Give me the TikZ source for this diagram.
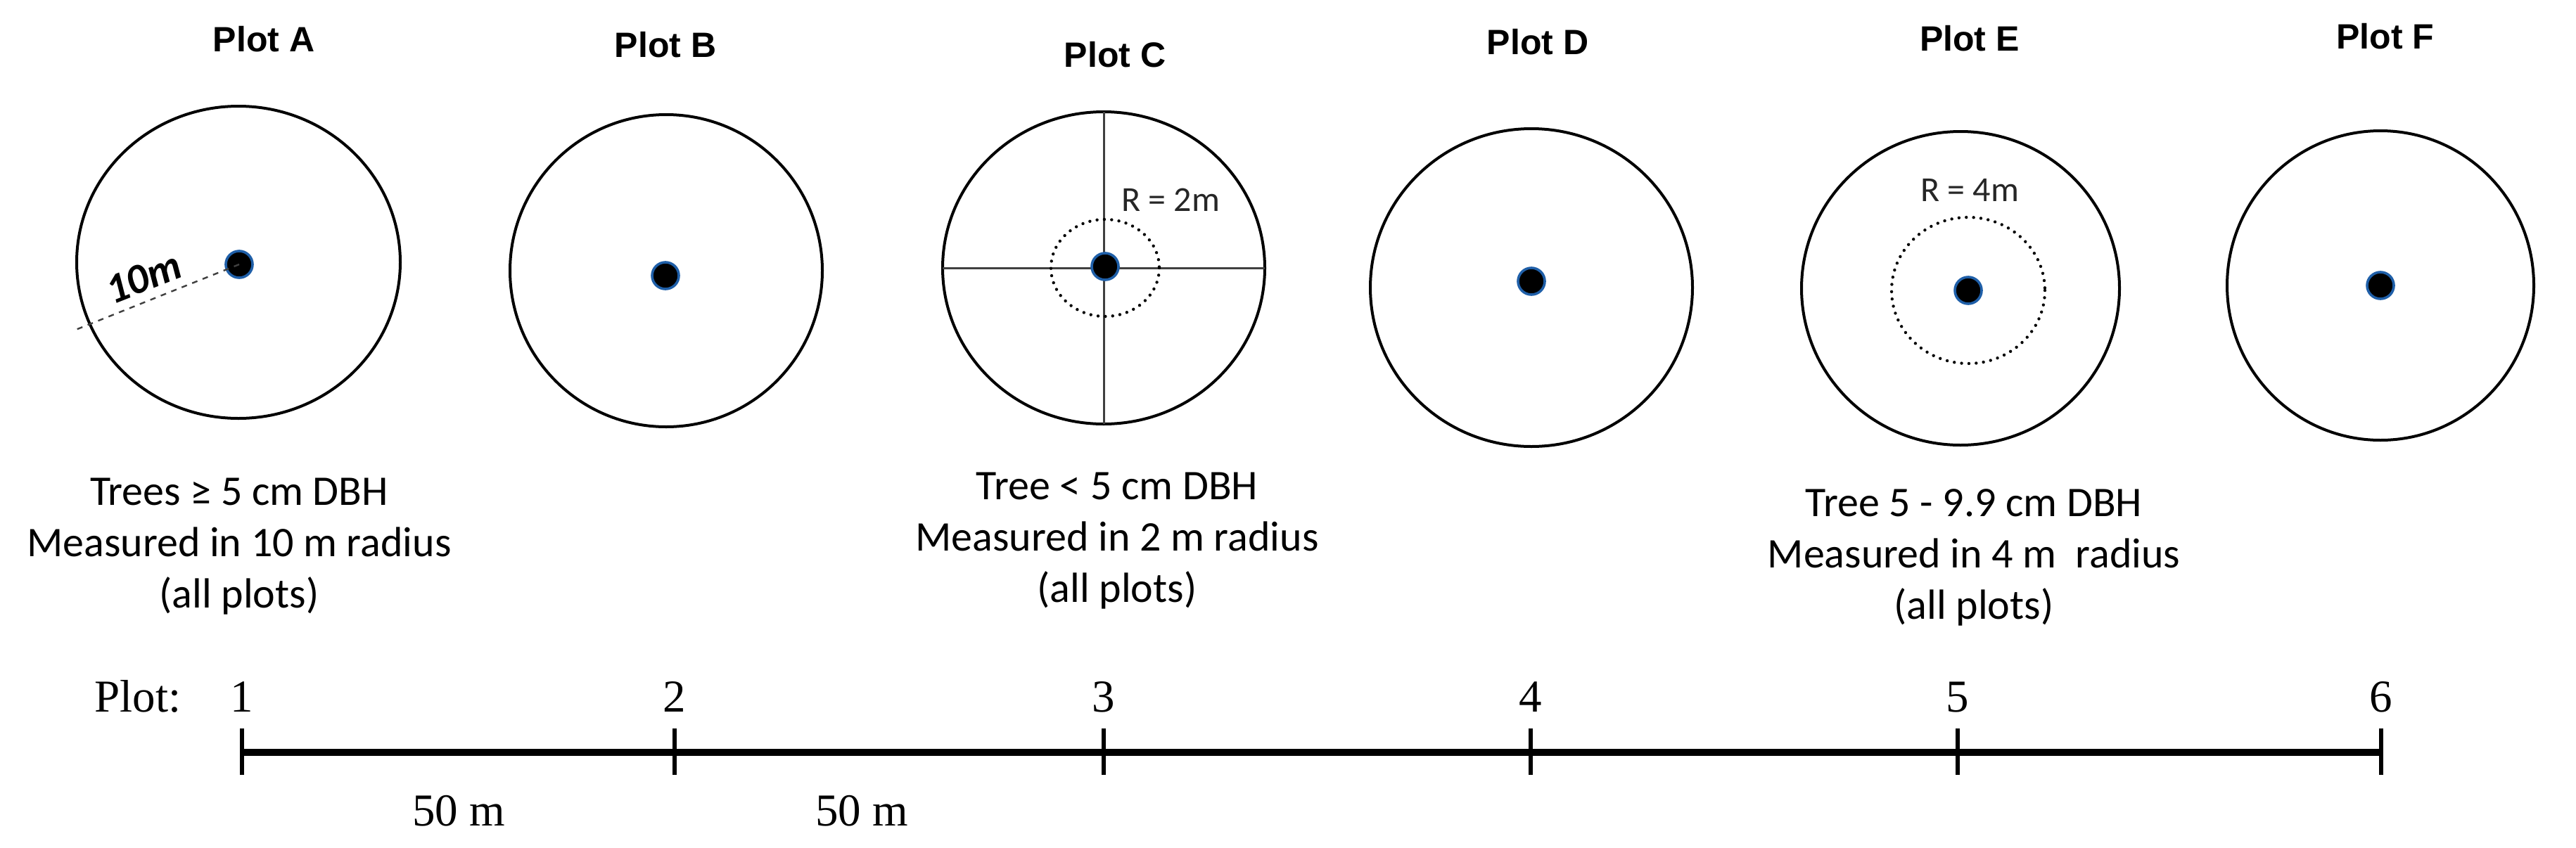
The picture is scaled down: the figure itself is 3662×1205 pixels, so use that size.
\documentclass[tikz,border=0pt]{standalone}
\usepackage{fontspec}
\setmainfont{Carlito}
\newfontfamily\arialf{Liberation Sans}
\newfontfamily\timesf{Liberation Serif}
\definecolor{treeblue}{HTML}{1F5FA8}
\definecolor{crossgray}{HTML}{404040}
\begin{document}
\begin{tikzpicture}[x=0.5pt,y=-0.5pt,
  plotring/.style={draw=black,line width=2pt},
  tree/.style={circle,fill=black,draw=treeblue,line width=1.8pt,minimum size=19pt,inner sep=0pt},
  title/.style={font=\arialf\bfseries\fontsize{25}{30}\selectfont,anchor=base,inner sep=0pt},
  body/.style={font=\fontsize{30}{35}\selectfont,anchor=base,inner sep=0pt},
  rlabel/.style={font=\fontsize{25}{30}\selectfont,anchor=base,inner sep=0pt,text=black!85},
  scalelbl/.style={font=\timesf\fontsize{32.5}{38}\selectfont,anchor=base,inner sep=0pt},
  crossline/.style={draw=crossgray,line width=1.5pt},
  dotring/.style={draw=black,line width=2.2pt,line cap=round,dash pattern=on 0pt off 5.2pt},
  radline/.style={draw=crossgray,line width=1.2pt,dash pattern=on 4pt off 4pt},
  bar/.style={draw=black,line width=5pt},
  tick/.style={draw=black,line width=2.6pt}]
\useasboundingbox[fill=white] (0,0) rectangle (3662,1205);

% plot centres
\coordinate (cA) at (339,373);
\coordinate (cB) at (947,385);
\coordinate (cC) at (1569,381);
\coordinate (cD) at (2177,409);
\coordinate (cE) at (2787,410);
\coordinate (cF) at (3384,406);

% outer rings
\draw[plotring] (cA) ellipse [x radius=230,y radius=222];
\draw[plotring] (cB) ellipse [x radius=222,y radius=222];
\draw[plotring] (cC) ellipse [x radius=229,y radius=222];
\draw[plotring] (cD) ellipse [x radius=229,y radius=226];
\draw[plotring] (cE) ellipse [x radius=226,y radius=223];
\draw[plotring] (cF) ellipse [x radius=218,y radius=220];

% titles
\node[title] (tA) at (375,73) {Plot A};
\node[title] (tB) at (946,81) {Plot B};
\node[title] (tC) at (1585,95) {Plot C};
\node[title] (tD) at (2186,77) {Plot D};
\node[title] (tE) at (2800,72) {Plot E};
\node[title] (tF) at (3391,69) {Plot F};

% plot C cross and inner ring
\coordinate (cW) at (1340,381);
\coordinate (cEa) at (1798,381);
\coordinate (cN) at (1569,159);
\coordinate (cS) at (1569,603);
\draw[crossline] (cW) -- (cEa);
\draw[crossline] (cN) -- (cS);
\draw[dotring] (1571,381) ellipse [x radius=77,y radius=69];
\node[rlabel] (rC) at (1664,300) {R = 2m};

% plot E inner ring
\draw[dotring] (2798,413) ellipse [x radius=109,y radius=104];
\node[rlabel] (rE) at (2800,286) {R = 4m};

% plot A radius
\coordinate (rEnd) at (105,470);
\node[tree] (dA) at (340,376) {};
\draw[radline] (dA.center) -- (rEnd);
\node[font=\bfseries\itshape\fontsize{30}{36}\selectfont,rotate=21.5,inner sep=0pt] (lA) at (204,395) {10m};

% tree dots
\node[tree] (dB) at (946,392) {};
\node[tree] (dC) at (1571,379) {};
\node[tree] (dD) at (2177,400) {};
\node[tree] (dE) at (2798,413) {};
\node[tree] (dF) at (3384,406) {};

% descriptions
\node[body] (a1) at (340,718) {Trees ≥ 5 cm DBH};
\node[body] (a2) at (340,791) {Measured in 10 m radius};
\node[body] (a3) at (340,864) {(all plots)};
\node[body] (c1) at (1588,710) {Tree < 5 cm DBH};
\node[body] (c2) at (1588,783) {Measured in 2 m radius};
\node[body] (c3) at (1588,856) {(all plots)};
\node[body] (e1) at (2806,734) {Tree 5 - 9.9 cm DBH};
\node[body] (e2) at (2806,807) {Measured in 4 m~ radius};
\node[body] (e3) at (2806,880) {(all plots)};

% scale bar
\coordinate (s1) at (344,1070);
\coordinate (s2) at (959,1070);
\coordinate (s3) at (1569,1070);
\coordinate (s4) at (2176,1070);
\coordinate (s5) at (2783,1070);
\coordinate (s6) at (3385,1070);
\draw[bar] (s1) -- (s6);
\foreach \s in {s1,s2,s3,s4,s5,s6}
  \draw[tick] ([yshift=17pt]\s) -- ([yshift=-16pt]\s);
\node[scalelbl] (plotlbl) at (196,1012) {Plot:};
\node[scalelbl] (n1) at (344,1012) {1};
\node[scalelbl] (n2) at (959,1012) {2};
\node[scalelbl] (n3) at (1569,1012) {3};
\node[scalelbl] (n4) at (2176,1012) {4};
\node[scalelbl] (n5) at (2783,1012) {5};
\node[scalelbl] (n6) at (3385,1012) {6};
\node[scalelbl] (d1) at (652,1174) {50 m};
\node[scalelbl] (d2) at (1225,1174) {50 m};
\end{tikzpicture}
\end{document}
